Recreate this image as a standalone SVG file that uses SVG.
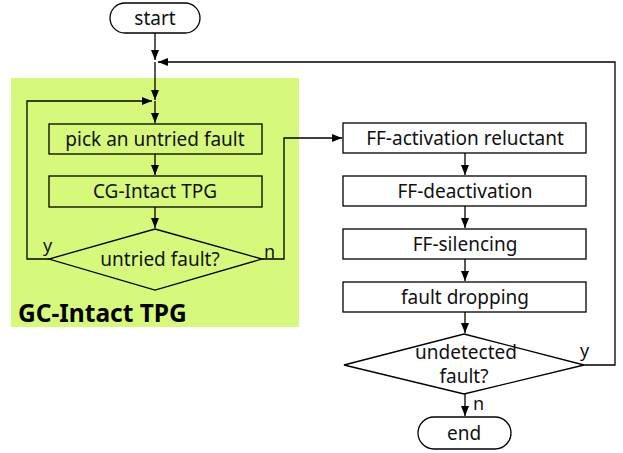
<svg xmlns="http://www.w3.org/2000/svg" width="623" height="453" viewBox="0 0 623 453">
  <style>
    .box { fill: none; stroke: #000; stroke-width: 1.3; }
    .wire { fill: none; stroke: #000; stroke-width: 1.3; }
    .lbl { font-family: "Noto Sans", "Open Sans", sans-serif; font-size: 19px; fill: #111; text-anchor: middle; }
    .yn { font-family: "Noto Sans", "Open Sans", sans-serif; font-size: 18px; fill: #111; }
    .title { font-family: "Noto Sans", "Open Sans", sans-serif; font-size: 24.5px; font-weight: bold; fill: #000; }
  </style>
  <defs>
    <marker id="arr" viewBox="0 0 10 8" refX="10" refY="4" markerWidth="10" markerHeight="8" markerUnits="userSpaceOnUse" orient="auto">
      <path d="M0,0 L10,4 L0,8 Z" fill="#000"/>
    </marker>
  </defs>

  <rect width="623" height="453" fill="#fff"/>

  <!-- shaded sub-procedure region -->
  <g id="gc-intact-region">
    <rect x="11" y="78" width="288" height="249" fill="#d7f97b"/>
    <text class="title" x="18" y="322">GC-Intact TPG</text>
  </g>

  <g id="start">
    <rect class="box" x="110" y="3" width="90" height="30" rx="15"/>
    <text class="lbl" x="155" y="25">start</text>
  </g>

  <g id="pick">
    <rect class="box" x="49" y="124" width="213" height="30"/>
    <text class="lbl" x="155" y="146">pick an untried fault</text>
  </g>

  <g id="cg-intact">
    <rect class="box" x="49" y="176" width="213" height="31"/>
    <text class="lbl" x="155" y="198">CG-Intact TPG</text>
  </g>

  <g id="untried">
    <polygon class="box" points="155,229 262,259 155,290 49,259"/>
    <text class="lbl" x="160" y="266">untried fault?</text>
  </g>

  <g id="ff-activation">
    <rect class="box" x="343" y="123" width="243" height="30"/>
    <text class="lbl" x="465" y="145">FF-activation reluctant</text>
  </g>

  <g id="ff-deactivation">
    <rect class="box" x="343" y="176" width="243" height="30"/>
    <text class="lbl" x="465" y="198">FF-deactivation</text>
  </g>

  <g id="ff-silencing">
    <rect class="box" x="343" y="229" width="243" height="30"/>
    <text class="lbl" x="465" y="251">FF-silencing</text>
  </g>

  <g id="fault-dropping">
    <rect class="box" x="343" y="282" width="243" height="30"/>
    <text class="lbl" x="465" y="304">fault dropping</text>
  </g>

  <g id="undetected">
    <polygon class="box" points="464,334 584,365 464,394 344,365"/>
    <text class="lbl" x="466" y="359">undetected</text>
    <text class="lbl" x="464" y="383">fault?</text>
  </g>

  <g id="end">
    <rect class="box" x="418" y="417" width="93" height="32" rx="16"/>
    <text class="lbl" x="464" y="440">end</text>
  </g>

  <g id="connectors">
    <line class="wire" x1="155" y1="33" x2="155" y2="60" marker-end="url(#arr)"/>
    <line class="wire" x1="155" y1="62" x2="155" y2="100" marker-end="url(#arr)"/>
    <line class="wire" x1="155" y1="101" x2="155" y2="123" marker-end="url(#arr)"/>
    <line class="wire" x1="155" y1="154" x2="155" y2="175" marker-end="url(#arr)"/>
    <line class="wire" x1="155" y1="207" x2="155" y2="228" marker-end="url(#arr)"/>
    <!-- retry loop -->
    <polyline class="wire" points="49,259 27,259 27,101 152,101" marker-end="url(#arr)"/>
    <text class="yn" x="43" y="252">y</text>
    <!-- leave sub-procedure -->
    <polyline class="wire" points="262,259 284,259 284,138 342,138" marker-end="url(#arr)"/>
    <text class="yn" x="264" y="258">n</text>
    <line class="wire" x1="465" y1="153" x2="465" y2="175" marker-end="url(#arr)"/>
    <line class="wire" x1="465" y1="206" x2="465" y2="228" marker-end="url(#arr)"/>
    <line class="wire" x1="465" y1="259" x2="465" y2="281" marker-end="url(#arr)"/>
    <line class="wire" x1="465" y1="312" x2="465" y2="333" marker-end="url(#arr)"/>
    <!-- back to top -->
    <polyline class="wire" points="584,365 615,365 615,62 158,62" marker-end="url(#arr)"/>
    <text class="yn" x="580" y="357">y</text>
    <line class="wire" x1="465" y1="394" x2="465" y2="416" marker-end="url(#arr)"/>
    <text class="yn" x="473" y="410">n</text>
  </g>
</svg>
